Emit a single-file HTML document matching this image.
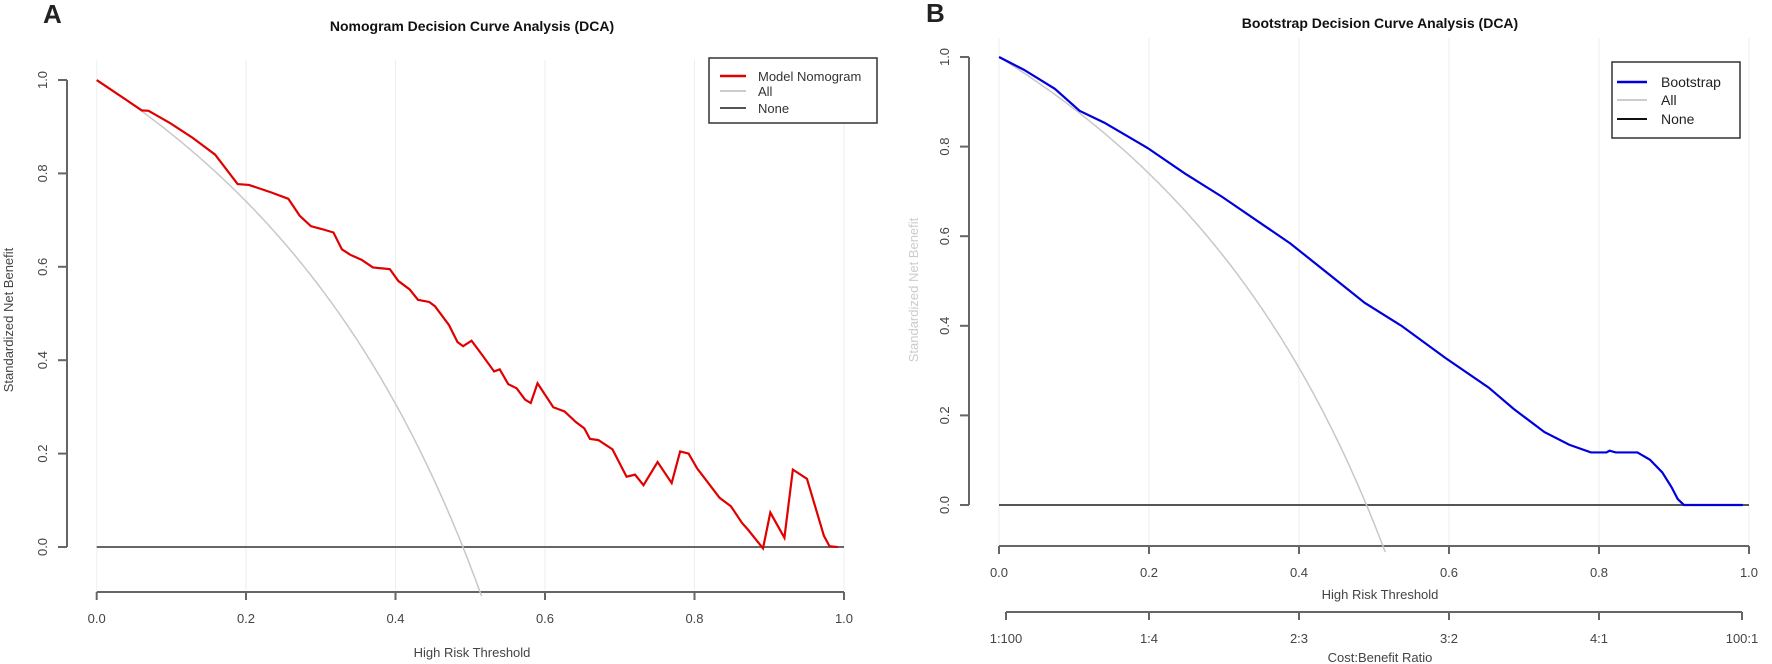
<!DOCTYPE html>
<html><head><meta charset="utf-8"><style>
html,body{margin:0;padding:0;background:#fff;}
svg{display:block;font-family:"Liberation Sans",Arial,sans-serif;}
</style></head><body>
<svg width="1772" height="664" viewBox="0 0 1772 664" xmlns="http://www.w3.org/2000/svg">
<!-- Panel A -->
<text x="43" y="23" font-size="26" font-weight="bold" fill="#222">A</text>
<text x="472" y="31" font-size="14" font-weight="bold" text-anchor="middle" fill="#111">Nomogram Decision Curve Analysis (DCA)</text>
<g stroke="#eeeeee" stroke-width="1">
<line x1="96.7" y1="60" x2="96.7" y2="590"/><line x1="246" y1="60" x2="246" y2="590"/><line x1="395.5" y1="60" x2="395.5" y2="590"/><line x1="545" y1="60" x2="545" y2="590"/><line x1="694.5" y1="60" x2="694.5" y2="590"/><line x1="844" y1="60" x2="844" y2="590"/>
</g>
<g stroke="#666" stroke-width="2" fill="none">
<line x1="67" y1="80" x2="67" y2="547"/>
<line x1="58" y1="80" x2="67" y2="80"/><line x1="58" y1="173.4" x2="67" y2="173.4"/><line x1="58" y1="266.8" x2="67" y2="266.8"/><line x1="58" y1="360.2" x2="67" y2="360.2"/><line x1="58" y1="453.6" x2="67" y2="453.6"/><line x1="58" y1="547" x2="67" y2="547"/>
<line x1="96.7" y1="592" x2="844" y2="592"/>
<line x1="96.7" y1="592" x2="96.7" y2="600"/><line x1="246" y1="592" x2="246" y2="600"/><line x1="395.5" y1="592" x2="395.5" y2="600"/><line x1="545" y1="592" x2="545" y2="600"/><line x1="694.5" y1="592" x2="694.5" y2="600"/><line x1="844" y1="592" x2="844" y2="600"/>
</g>
<g font-size="13" fill="#444" text-anchor="middle">
<text transform="translate(47,80) rotate(-90)">1.0</text>
<text transform="translate(47,173.4) rotate(-90)">0.8</text>
<text transform="translate(47,266.8) rotate(-90)">0.6</text>
<text transform="translate(47,360.2) rotate(-90)">0.4</text>
<text transform="translate(47,453.6) rotate(-90)">0.2</text>
<text transform="translate(47,547) rotate(-90)">0.0</text>
<text x="96.7" y="623">0.0</text><text x="246" y="623">0.2</text><text x="395.5" y="623">0.4</text><text x="545" y="623">0.6</text><text x="694.5" y="623">0.8</text><text x="844" y="623">1.0</text>
<text x="472" y="657">High Risk Threshold</text>
<text transform="translate(13,320) rotate(-90)">Standardized Net Benefit</text>
</g>
<line x1="96.7" y1="547" x2="844" y2="547" stroke="#666" stroke-width="2"/>
<path id="allA" fill="none" stroke="#c8c8c8" stroke-width="1.5" d=""/>
<path fill="none" stroke="#e00000" stroke-width="2.2" vector-effect="non-scaling-stroke" transform="matrix(0.5637 0 0 0.4211 0.87 3.0)" d="M170,183 L250,255 262,256 300,285 340,320 380,360 400,395 420,430 440,432 480,450 510,465 530,505 550,530 570,537 590,545 605,585 620,598 640,610 660,628 690,632 705,660 725,680 740,705 760,710 770,720 795,765 810,805 820,815 835,802 855,838 875,875 885,870 900,905 915,915 930,942 940,950 952,903 980,960 1000,970 1020,995 1035,1010 1045,1035 1060,1038 1085,1060 1110,1125 1125,1120 1140,1145 1165,1090 1190,1140 1205,1065 1220,1070 1235,1105 1275,1175 1295,1195 1315,1235 1325,1250 1352,1295 1365,1210 1390,1270 1405,1108 1430,1130 1460,1265 1470,1290 1485,1292"/>
<rect x="709" y="58" width="168" height="65" fill="#fff" stroke="#333" stroke-width="1.5"/>
<line x1="720" y1="76" x2="746" y2="76" stroke="#e00000" stroke-width="2.5"/>
<line x1="720" y1="91" x2="746" y2="91" stroke="#ccc" stroke-width="2"/>
<line x1="720" y1="108" x2="746" y2="108" stroke="#555" stroke-width="2"/>
<g font-size="13" fill="#333"><text x="758" y="81">Model Nomogram</text><text x="758" y="96">All</text><text x="758" y="113">None</text></g>

<!-- Panel B -->
<text x="926" y="22" font-size="26" font-weight="bold" fill="#222">B</text>
<text x="1380" y="28" font-size="14" font-weight="bold" text-anchor="middle" fill="#111">Bootstrap Decision Curve Analysis (DCA)</text>
<g stroke="#eeeeee" stroke-width="1">
<line x1="999" y1="38" x2="999" y2="545"/><line x1="1149" y1="38" x2="1149" y2="545"/><line x1="1299" y1="38" x2="1299" y2="545"/><line x1="1449" y1="38" x2="1449" y2="545"/><line x1="1599" y1="38" x2="1599" y2="545"/><line x1="1749" y1="38" x2="1749" y2="545"/>
</g>
<g stroke="#666" stroke-width="2" fill="none">
<line x1="969" y1="57" x2="969" y2="505"/>
<line x1="960" y1="57" x2="969" y2="57"/><line x1="960" y1="146.6" x2="969" y2="146.6"/><line x1="960" y1="236.2" x2="969" y2="236.2"/><line x1="960" y1="325.8" x2="969" y2="325.8"/><line x1="960" y1="415.4" x2="969" y2="415.4"/><line x1="960" y1="505" x2="969" y2="505"/>
<line x1="999" y1="546" x2="1749" y2="546"/>
<line x1="999" y1="546" x2="999" y2="554"/><line x1="1149" y1="546" x2="1149" y2="554"/><line x1="1299" y1="546" x2="1299" y2="554"/><line x1="1449" y1="546" x2="1449" y2="554"/><line x1="1599" y1="546" x2="1599" y2="554"/><line x1="1749" y1="546" x2="1749" y2="554"/>
<line x1="1006" y1="612" x2="1742" y2="612"/>
<line x1="1006" y1="612" x2="1006" y2="620"/><line x1="1149" y1="612" x2="1149" y2="620"/><line x1="1299" y1="612" x2="1299" y2="620"/><line x1="1449" y1="612" x2="1449" y2="620"/><line x1="1599" y1="612" x2="1599" y2="620"/><line x1="1742" y1="612" x2="1742" y2="620"/>
</g>
<g font-size="13" fill="#444" text-anchor="middle">
<text transform="translate(949,57) rotate(-90)">1.0</text>
<text transform="translate(949,146.6) rotate(-90)">0.8</text>
<text transform="translate(949,236.2) rotate(-90)">0.6</text>
<text transform="translate(949,325.8) rotate(-90)">0.4</text>
<text transform="translate(949,415.4) rotate(-90)">0.2</text>
<text transform="translate(949,505) rotate(-90)">0.0</text>
<text x="999" y="577">0.0</text><text x="1149" y="577">0.2</text><text x="1299" y="577">0.4</text><text x="1449" y="577">0.6</text><text x="1599" y="577">0.8</text><text x="1749" y="577">1.0</text>
<text x="1380" y="599">High Risk Threshold</text>
<text x="1006" y="643">1:100</text><text x="1149" y="643">1:4</text><text x="1299" y="643">2:3</text><text x="1449" y="643">3:2</text><text x="1599" y="643">4:1</text><text x="1742" y="643">100:1</text>
<text x="1380" y="662">Cost:Benefit Ratio</text>
</g>
<text transform="translate(918,290) rotate(-90)" font-size="13" fill="#999" text-anchor="middle" opacity="0.5">Standardized Net Benefit</text>
<line x1="999" y1="505" x2="1749" y2="505" stroke="#555" stroke-width="2"/>
<path id="allB" fill="none" stroke="#c8c8c8" stroke-width="1.5" d=""/>
<path fill="none" stroke="#0000dd" stroke-width="2.2" vector-effect="non-scaling-stroke" transform="matrix(0.6198 0 0 0.4238 800.7 -0.2)" d="M320,135 L360,165 410,210 450,262 490,290 560,350 620,410 680,465 750,535 790,575 850,645 910,715 970,770 1040,845 1110,915 1150,965 1200,1020 1240,1050 1275,1068 1300,1068 1305,1064 1315,1068 1350,1068 1370,1085 1390,1115 1405,1150 1415,1178 1425,1192 1520,1192"/>
<rect x="1612" y="62" width="128" height="76" fill="#fff" stroke="#333" stroke-width="1.5"/>
<line x1="1617" y1="82" x2="1647" y2="82" stroke="#0000dd" stroke-width="2.5"/>
<line x1="1617" y1="100" x2="1647" y2="100" stroke="#ccc" stroke-width="2"/>
<line x1="1617" y1="119" x2="1647" y2="119" stroke="#111" stroke-width="2"/>
<g font-size="14" fill="#222"><text x="1661" y="87">Bootstrap</text><text x="1661" y="105">All</text><text x="1661" y="124">None</text></g>
</svg>
<script>
function allPath(x0,w,y0,h,tmax){var p=0.49,d="";for(var i=0;i<=200;i++){var t=tmax*i/200;var v=(p-t/(1-t)*(1-p))/p;d+=(i?"L":"M")+(x0+w*t).toFixed(1)+","+(y0-h*v).toFixed(1);}return d;}
document.getElementById("allA").setAttribute("d",allPath(96.7,747.3,547,467,0.515));
document.getElementById("allB").setAttribute("d",allPath(999,750,505,448,0.515));
</script>
</body></html>
